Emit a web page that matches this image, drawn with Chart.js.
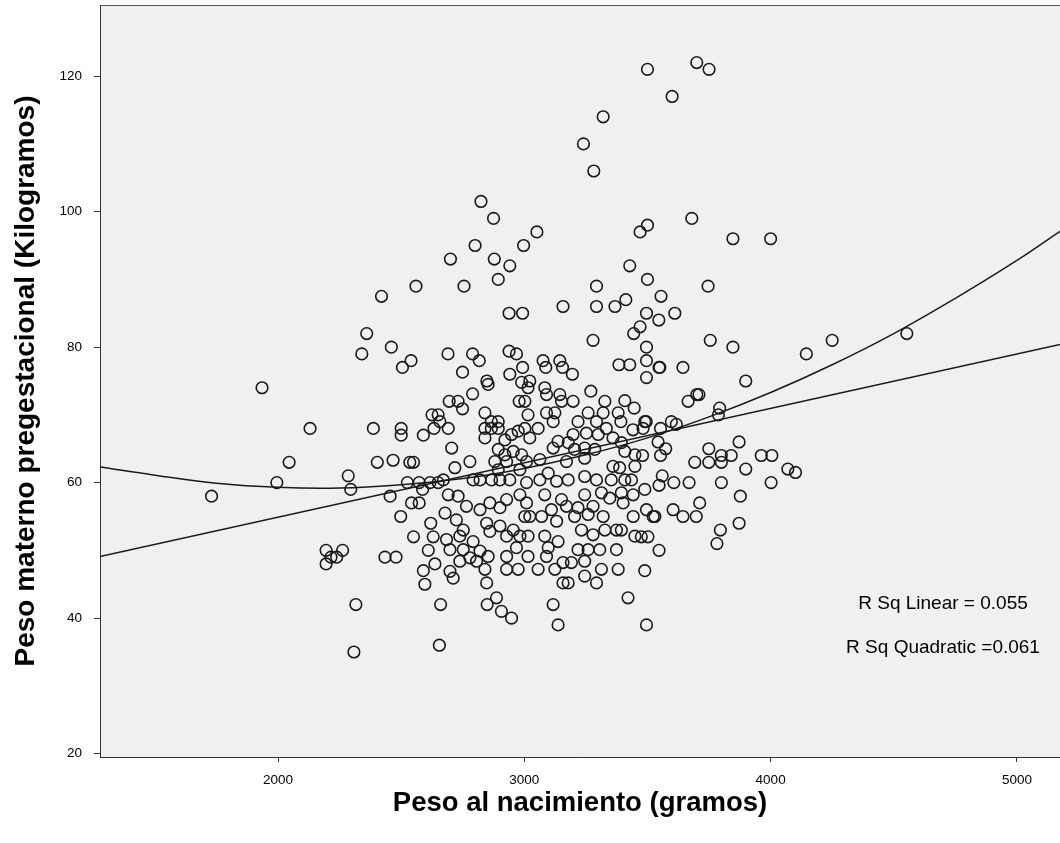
<!DOCTYPE html>
<html>
<head>
<meta charset="utf-8">
<script src="https://cdn.jsdelivr.net/npm/chart.js@4.4.1/dist/chart.umd.min.js"></script>
<style>
  html, body { margin: 0; padding: 0; background: #fff; }
  #wrap { width: 1060px; height: 843px; }
</style>
</head>
<body>
<div id="wrap"><canvas id="chart" width="1060" height="843"></canvas></div>
<script>
// birth weight (g) and pre-pregnancy maternal weight (kg)
const birthWeight = [
  2420,2560,2360,2340,2460,2540,2505,1935,2130,2045,1995,1730,2195,2195,2215,2262,2238,
  2387,2500,2500,2590,2625,2650,2633,2403,2467,2535,2550,2285,2295,2455,2525,2573,2617,2650,2587,2542,2573,2498,2550,2620,2630,2610,2637,2590,2596,2434,2479,2316,2308,2660,2655,
  3320,3240,3282,2824,2875,3051,2800,2997,2700,2878,2941,2894,2755,3293,3428,3470,3157,3293,3368,3412,2938,2993,3279,3444,3470,2690,2790,2817,2938,2968,2749,2993,2941,3076,3087,3144,3155,3195,3384,3428,2848,3022,
  3500,3700,3750,3600,3680,3500,3847,4000,3500,3746,3555,3496,3546,3611,3496,3755,3847,4145,4250,3496,3547,3550,3644,3899,3496,4553,
  3665,3709,3700,3793,3788,3489,3495,3482,3553,3597,3617,3543,3574,3872,3480,3553,3749,3800,3840,3962,4005,3692,3749,3800,3899,4070,4101,3560,3489,3547,3607,3669,3800,4002,3877,3712,3496,3523,3530,3604,3644,3698,3872,3796,3782,3475,3502,3547,3489,3496,
  2849,2907,2948,2887,3117,3137,3421,
  2853,2790,2695,2731,2749,2979,3002,3015,2989,3015,2657,2691,2840,2840,2866,2894,2866,2894,2840,3002,2948,2975,2921,3022,2705,2894,2921,2955,2989,2779,2880,2928,3009,2718,2982,2671,2792,2820,2867,2901,2941,3009,2894,
  3270,3198,3327,3408,3446,3083,3090,3144,3151,3124,3090,3117,3056,3218,3259,3320,3381,3392,3441,3293,3300,3333,3198,3252,3137,3178,3117,3360,3394,3408,3204,3245,3286,3063,3171,3245,3449,3360,3387,3449,3097,3063,3131,3178,3245,3293,3353,3408,3435,
  2678,2691,2731,2765,2820,2860,2901,2928,2982,3009,3002,3022,2724,2752,2847,2860,2928,2901,2955,2982,3015,2684,2738,2792,2698,2752,2820,2853,2779,2928,2968,3015,2738,2806,2840,2698,2711,2928,2975,2847,
  3083,3151,3245,3313,3394,3442,3401,3347,3110,3171,3218,3279,3070,3131,3204,3259,3320,3442,3232,3279,3327,3374,3394,3449,3083,3137,3097,3090,3218,3259,3306,3374,3157,3191,3245,3313,3381,3056,3124,3245,3157,3178,3293
];
const maternalWeight = [
  87.5,89,82,79,80,78,77,74,68,63,60,58,50,48,49,50,49,
  68,68,67,67,70,70,68,63,63.3,63,63,61,59,58,60,60,60,60,59,57,57,55,52,54,52,50,48,47,45,49,49,42,35,42,36,
  114,110,106,101.5,99,97,95,95,93,93,92,90,89,89,92,97,86,86,86,87,85,85,81,82,83,79,79,78,79.4,79,76.3,77,76,78,77,78,77,76,77.4,77.4,75,75,
  121,122,121,117,99,98,96,96,90,89,87.5,85,84,85,80,81,80,79,81,78,77,77,77,75,75.5,82,
  72,73,73,71,70,69,69,68,68,69,68.6,66,65,66,64,64,65,64,64,64,64,63,63,63,62,62,61.5,61,59,59.6,60,60,60,60,58,57,56,55,55,56,55,55,54,53,51,52,52,50,47,39,
  42,41,40,43,42,39,43,
  74.5,73.1,72,72,70.9,72,72,74,74.8,70,69,68,70.3,68,69,69,68,68,66.6,68,67.1,67.6,66.3,66.6,65.1,64.9,64.1,64.6,64.1,63.1,63.1,63.1,63.1,62.2,61.9,60.4,60.4,60.4,60.4,60.4,60.4,60,61.9,
  73.5,72,72,72.1,71,74,73,73,72,70.3,70.3,69,68,69,70.3,70.3,70.3,69,67.8,69,67.1,68,67.1,67.3,66.1,65.9,65.1,66.6,65.9,64.6,64.9,65.1,64.9,63.4,63.1,63.6,64.1,62.4,62.2,62.4,61.4,60.4,60.2,60.4,60.9,60.4,60.4,60.4,60.4,
  55.5,58.2,58,56.5,56,57,56.3,57.5,58.2,57,55,55,54.5,53,54,52.8,52.1,53.6,53,52.1,52.1,51.6,52.1,51.3,50.1,50.1,49.9,49.1,48.9,49.1,50.4,49.1,48.4,48.4,47.2,46.9,45.9,47.2,47.2,45.2,
  58.2,57.5,58.2,58.5,58.5,58.2,57,57.7,56,56.5,56.3,56.5,55,54.3,55,55.3,55,55,53,52.3,53,53,53,52.1,52.1,51.3,50.4,49.1,50.1,50.1,50.1,50.1,48.2,48.2,48.4,47.2,47.2,47.2,47.2,46.2,45.2,45.2,45.2
];

// fit lines
const linearFitX = [1277, 5175];
const linearFitY = [49.1, 80.4];
const quadFitX = [1277,1500,1750,2000,2250,2500,2750,3000,3250,3500,3750,4000,4250,4500,4750,5000,5175];
const quadFitY = [62.3,61.1,59.9,59.3,59.2,59.7,60.6,62.1,64.1,66.6,69.7,73.3,77.4,82.0,87.2,92.8,97.1];

const xTicks = [2000, 3000, 4000, 5000];
const yTicks = [20, 40, 60, 80, 100, 120];
const rSqLabels = ["R Sq Linear = 0.055", "R Sq Quadratic =0.061"];

const FONT = "'Liberation Sans', Arial, sans-serif";
const INK = "#1a1a1a";

const toPoints = (xs, ys) => xs.map((x, i) => ({ x: x, y: ys[i] }));

// grey plot area with a thin frame
const plotFrame = {
  id: "plotFrame",
  beforeDraw(chart) {
    const { ctx, chartArea: a } = chart;
    ctx.save();
    ctx.fillStyle = "#f0f0f0";
    ctx.fillRect(a.left, a.top, a.right - a.left, a.bottom - a.top);
    ctx.strokeStyle = "#555";
    ctx.lineWidth = 1;
    ctx.strokeRect(a.left + 0.5, a.top + 0.5, a.right - a.left, a.bottom - a.top);
    ctx.restore();
  }
};

// R squared notes in the lower right corner
const rSqNotes = {
  id: "rSqNotes",
  afterDatasetsDraw(chart) {
    const { ctx, scales } = chart;
    const x = scales.x.getPixelForValue(4700);
    const ys = [42.1, 35.6];
    ctx.save();
    ctx.font = "19px " + FONT;
    ctx.fillStyle = "#000";
    ctx.textAlign = "center";
    ctx.textBaseline = "middle";
    rSqLabels.forEach((t, i) => ctx.fillText(t, x, scales.y.getPixelForValue(ys[i])));
    ctx.restore();
  }
};

new Chart(document.getElementById("chart"), {
  type: "scatter",
  data: {
    datasets: [
      {
        data: toPoints(linearFitX, linearFitY),
        showLine: true,
        borderColor: INK,
        borderWidth: 1.5,
        pointRadius: 0
      },
      {
        data: toPoints(quadFitX, quadFitY),
        showLine: true,
        borderColor: INK,
        borderWidth: 1.5,
        pointRadius: 0,
        tension: 0.4
      },
      {
        data: toPoints(birthWeight, maternalWeight),
        pointStyle: "circle",
        pointRadius: 5.8,
        borderWidth: 1.6,
        borderColor: INK,
        backgroundColor: "rgba(0,0,0,0)"
      }
    ]
  },
  options: {
    responsive: false,
    animation: false,
    devicePixelRatio: 1,
    layout: { autoPadding: false, padding: { top: 5, right: 0, left: 0, bottom: 0 } },
    plugins: {
      legend: { display: false },
      tooltip: { enabled: false }
    },
    scales: {
      x: {
        type: "linear",
        min: 1277,
        max: 5175,
        afterBuildTicks: (scale) => { scale.ticks = xTicks.map(v => ({ value: v })); },
        afterFit: (scale) => {
          scale.height = 86;
          scale.paddingLeft = 0;
          scale.paddingRight = 0;
        },
        grid: { drawOnChartArea: false, drawTicks: true, tickLength: 5, color: "#333" },
        border: { display: true, color: "#333" },
        ticks: {
          color: "#000",
          font: { family: FONT, size: 13.5 },
          padding: 10,
          maxRotation: 0,
          callback: (v) => String(v)
        },
        title: {
          display: true,
          text: "Peso al nacimiento (gramos)",
          color: "#000",
          font: { family: FONT, size: 27.5, weight: "bold" },
          padding: { top: 0, bottom: 23 }
        }
      },
      y: {
        type: "linear",
        min: 19.5,
        max: 130.5,
        afterBuildTicks: (scale) => { scale.ticks = yTicks.map(v => ({ value: v })); },
        afterFit: (scale) => {
          scale.width = 100;
          scale.paddingTop = 0;
          scale.paddingBottom = 0;
        },
        grid: { drawOnChartArea: false, drawTicks: true, tickLength: 6, color: "#333" },
        border: { display: true, color: "#333" },
        ticks: {
          color: "#000",
          font: { family: FONT, size: 13.5 },
          padding: 12,
          callback: (v) => String(v)
        },
        title: {
          display: true,
          text: "Peso materno pregestacional (Kilogramos)",
          color: "#000",
          font: { family: FONT, size: 28, weight: "bold" },
          padding: { top: 9, bottom: 0 }
        }
      }
    }
  },
  plugins: [plotFrame, rSqNotes]
});
</script>
</body>
</html>
